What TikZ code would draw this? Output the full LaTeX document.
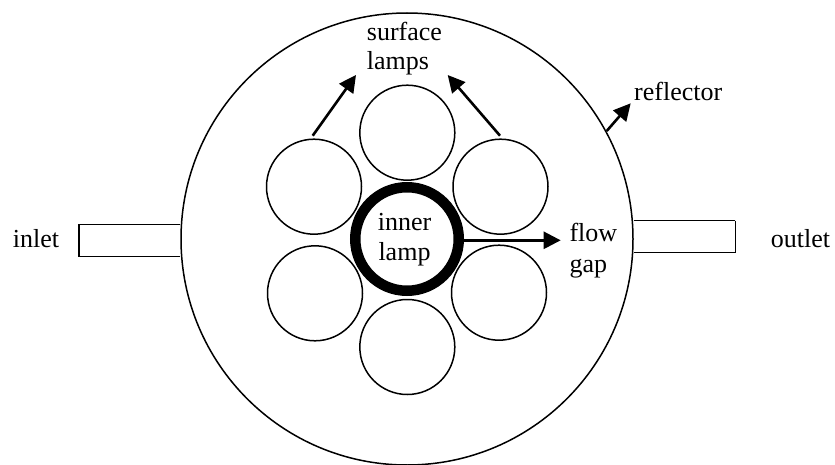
\documentclass[tikz,border=0pt]{standalone}
\usepackage{fontspec}
\setmainfont{Liberation Serif}
\usetikzlibrary{arrows.meta}
\tikzset{
  lampc/.style={circle,draw,line width=1.5pt,minimum size=95pt,inner sep=0pt},
  lbl/.style={inner sep=0pt,font=\fontsize{26}{30}\selectfont,align=left,yshift=-0.8pt},
  pipe/.style={line width=1.5pt},
  arr/.style={line width=2.6pt,-{Triangle[length=17pt,width=17pt]}}
}
\begin{document}
\begin{tikzpicture}[x=1pt,y=-1pt]
\useasboundingbox (0,0) rectangle (835,465);
\node[circle,draw,line width=1.5pt,minimum size=452pt,inner sep=0pt] (refl) at (407,239) {};
\node[lampc] (l1) at (407.3,132.7) {};
\node[lampc] (l2) at (314,186.7) {};
\node[lampc] (l3) at (500.5,186.7) {};
\node[lampc] (l4) at (315,293.3) {};
\node[lampc] (l5) at (499,292.7) {};
\node[lampc] (l6) at (407.3,347) {};
\node[circle,draw,line width=10.5pt,minimum size=103.5pt,inner sep=0pt] (inner) at (407,239) {};
\node[lbl,anchor=base west] (tsurf) at (366.7,39.3) {surface};
\node[lbl,anchor=base west] (tlamps) at (366.7,69) {lamps};
\node[lbl,anchor=base] (tinner) at (404.5,230) {inner};
\node[lbl,anchor=base] (tlamp) at (404.5,259.5) {lamp};
\node[lbl,anchor=base west] (tflow) at (569.3,240.7) {flow};
\node[lbl,anchor=base west] (tgap) at (569.3,271.7) {gap};
\node[lbl,anchor=base west] (tinlet) at (12.7,246.7) {inlet};
\node[lbl,anchor=base west] (toutlet) at (770.7,246.7) {outlet};
\node[lbl,anchor=base west] (trefl) at (634,100) {reflector};
\coordinate (ilA) at (180,224.3); \coordinate (ilB) at (79,224.3);
\coordinate (ilC) at (79,256.7); \coordinate (ilD) at (180,256.7);
\draw[pipe] (ilA) -- (ilB) -- (ilC) -- (ilD);
\coordinate (olA) at (634,220.7); \coordinate (olB) at (735.3,220.7);
\coordinate (olC) at (735.3,252.7); \coordinate (olD) at (634,252.7);
\draw[pipe] (olA) -- (olB) (olC) -- (olD);
\draw[pipe] (olB) -- (olC);
\coordinate (a1s) at (312.7,135.7); \coordinate (a1e) at (356,75);
\coordinate (a2s) at (500,135.7); \coordinate (a2e) at (447.7,75);
\coordinate (a3s) at (606.7,131); \coordinate (a3e) at (630.7,103.3);
\coordinate (a4e) at (560.7,240.3);
\draw[arr] (a1s) -- (a1e);
\draw[arr] (a2s) -- (a2e);
\draw[arr] (a3s) -- (a3e);
\draw[arr] (inner.east |- a4e) -- (a4e);
\end{tikzpicture}
\end{document}
